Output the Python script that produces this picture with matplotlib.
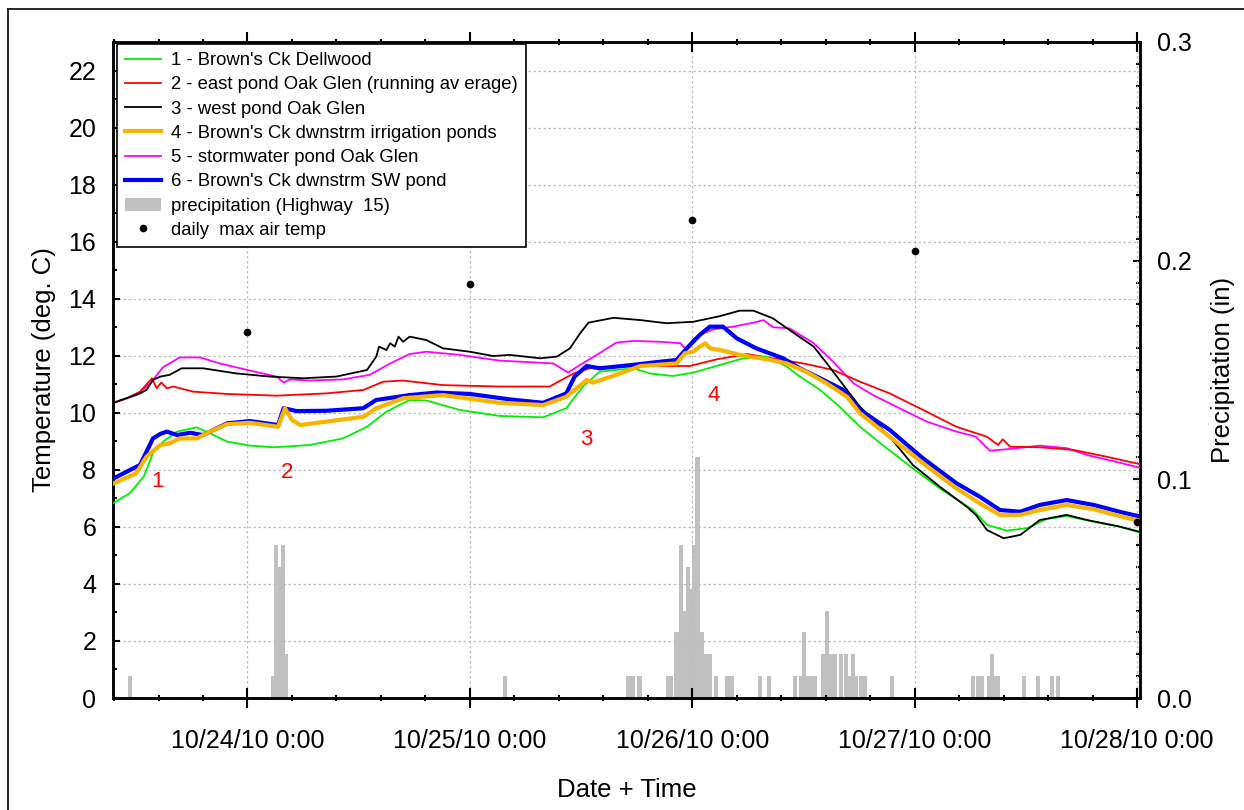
import matplotlib
matplotlib.use("Agg")
import matplotlib.pyplot as plt
import matplotlib.dates as mdates
from matplotlib.ticker import MultipleLocator, FuncFormatter
from matplotlib.lines import Line2D
from matplotlib.patches import Patch
from datetime import datetime

plt.rcParams['font.family'] = ['Liberation Sans', 'DejaVu Sans']

# ---- data (hours from 10/24/10 0:00) ----
green_h = [-14.8, -12.7, -11.2, -10.2, -9.1, -7.6, -5.5, -4.05, -2.2, 0.27, 2.8, 6.7, 10.3, 12.9, 15.0, 17.5,
           19.3, 22.9, 27.2, 31.9, 34.4, 36.2, 38.0, 41.6, 43.4, 45.9, 48.1, 50.6, 53.5, 56.0, 58.2, 59.6,
           61.8, 63.9, 66.1, 68.3, 71.8, 74.7, 78.3, 79.8, 81.9, 84.1, 86.2, 88.4, 91.3, 94.1, 96.6]
green_t = [6.77, 7.18, 7.76, 8.58, 8.99, 9.34, 9.49, 9.28, 8.99, 8.85, 8.79, 8.87, 9.10, 9.51, 10.04, 10.45,
           10.43, 10.10, 9.89, 9.84, 10.16, 10.92, 11.44, 11.56, 11.38, 11.29, 11.41, 11.64, 11.91, 11.97, 11.62, 11.27,
           10.80, 10.21, 9.51, 8.93, 8.05, 7.35, 6.59, 6.07, 5.87, 5.95, 6.27, 6.38, 6.18, 6.01, 5.77]

red_h = [-14.8, -13.0, -11.6, -10.3, -9.8, -9.3, -8.7, -8.0, -5.85, -2.2, 3.15, 8.5, 12.5, 14.65, 16.8, 21.1,
         27.2, 32.6, 35.2, 37.3, 43.4, 47.7, 50.6, 53.9, 56.7, 60.3, 63.2, 66.1, 69.3, 72.9, 76.5, 79.8,
         81.0, 81.5, 82.3, 85.5, 89.1, 92.7, 96.7]
red_t = [10.31, 10.51, 10.74, 11.21, 10.86, 11.06, 10.86, 10.92, 10.74, 10.66, 10.60, 10.68, 10.80, 11.09, 11.13, 10.97,
         10.92, 10.92, 11.38, 11.60, 11.64, 11.64, 11.87, 12.06, 11.91, 11.71, 11.50, 11.09, 10.68, 10.10, 9.51, 9.16,
         8.87, 9.07, 8.81, 8.79, 8.70, 8.46, 8.17]

black_h = [-14.8, -11.6, -10.9, -10.2, -9.4, -8.4, -7.1, -4.8, -1.2, 2.4, 6.0, 9.6, 12.9, 13.9, 14.2, 15.0, 15.4,
           15.9, 16.3, 16.8, 17.5, 19.3, 21.1, 24.0, 26.5, 28.3, 31.6, 33.4, 34.8, 35.9, 36.8, 39.5, 42.4, 45.2,
           48.1, 51.0, 53.1, 54.6, 56.7, 58.5, 61.1, 62.5, 64.7, 66.1, 69.3, 71.8, 74.7, 77.6, 78.6, 79.8,
           81.6, 83.4, 85.5, 88.4, 90.6, 94.1, 96.6]
black_t = [10.31, 10.68, 10.80, 11.15, 11.27, 11.33, 11.56, 11.56, 11.38, 11.27, 11.21, 11.27, 11.50, 11.97, 12.32, 12.20, 12.44,
           12.32, 12.67, 12.49, 12.67, 12.55, 12.26, 12.14, 11.99, 12.03, 11.91, 11.97, 12.26, 12.79, 13.16, 13.33, 13.25, 13.14,
           13.19, 13.39, 13.58, 13.58, 13.31, 12.90, 12.32, 11.74, 10.80, 10.21, 9.16, 8.17, 7.41, 6.71, 6.42, 5.89,
           5.60, 5.72, 6.24, 6.42, 6.24, 6.01, 5.80]

orange_h = [-14.8, -12.0, -10.9, -9.4, -8.4, -7.3, -5.5, -4.05, -2.2, 0.27, 3.3, 4.05, 4.8, 5.7, 8.5, 12.5, 13.9,
            16.8, 21.1, 27.2, 31.9, 34.4, 36.6, 37.3, 39.8, 42.4, 46.3, 47.2, 48.1, 48.8, 49.4, 49.9, 51.0, 53.1,
            56.0, 58.2, 60.3, 62.5, 64.7, 66.1, 69.3, 72.9, 76.5, 79.0, 81.2, 83.4, 85.5, 88.4, 91.3, 94.1, 96.6]
orange_t = [7.47, 7.88, 8.46, 8.87, 8.93, 9.10, 9.10, 9.34, 9.60, 9.65, 9.51, 10.16, 9.75, 9.57, 9.69, 9.86, 10.16,
            10.51, 10.62, 10.35, 10.27, 10.56, 11.15, 11.06, 11.33, 11.64, 11.73, 12.09, 12.14, 12.32, 12.44, 12.26, 12.20, 12.03,
            11.88, 11.73, 11.44, 11.03, 10.56, 9.98, 9.16, 8.23, 7.35, 6.83, 6.42, 6.42, 6.59, 6.77, 6.62, 6.38, 6.18]

magenta_h = [-14.8, -12.0, -10.5, -9.1, -7.3, -5.1, -3.0, 0.27, 3.15, 3.9, 4.6, 6.7, 10.3, 13.2, 15.4, 17.5, 19.3,
             22.9, 27.2, 33.0, 34.6, 35.9, 38.0, 39.8, 41.6, 44.5, 46.7, 47.4, 48.1, 49.2, 50.3, 52.4, 54.6, 55.7,
             56.7, 58.5, 61.1, 63.2, 65.4, 67.5, 71.1, 73.3, 76.5, 78.6, 80.1, 81.9, 85.5, 88.4, 90.6, 94.1, 96.6]
magenta_t = [10.31, 10.62, 11.03, 11.60, 11.94, 11.94, 11.73, 11.48, 11.27, 11.06, 11.17, 11.13, 11.17, 11.33, 11.73, 12.06, 12.14,
             12.03, 11.83, 11.73, 11.41, 11.68, 12.09, 12.46, 12.52, 12.49, 12.44, 12.20, 12.58, 12.79, 12.93, 13.02, 13.16, 13.25,
             13.00, 12.96, 12.44, 11.79, 11.03, 10.62, 10.04, 9.69, 9.34, 9.16, 8.67, 8.72, 8.85, 8.76, 8.52, 8.25, 8.05]

blue_h = [-14.8, -12.7, -11.6, -10.2, -9.4, -8.7, -7.6, -6.2, -4.8, -2.2, 0.27, 3.3, 3.9, 5.3, 8.5, 12.5, 13.9,
          17.5, 20.4, 24.0, 28.3, 31.9, 34.4, 35.3, 36.6, 38.0, 41.6, 44.5, 46.3, 47.4, 48.8, 49.9, 51.3, 52.8,
          54.9, 57.8, 59.6, 61.8, 64.3, 66.1, 69.3, 72.9, 76.5, 79.0, 81.2, 83.4, 85.5, 88.4, 91.3, 94.1, 96.6]
blue_t = [7.64, 7.99, 8.17, 9.10, 9.26, 9.34, 9.22, 9.30, 9.22, 9.63, 9.71, 9.57, 10.16, 10.06, 10.07, 10.16, 10.45,
          10.62, 10.71, 10.66, 10.47, 10.35, 10.68, 11.27, 11.64, 11.56, 11.68, 11.79, 11.85, 12.26, 12.73, 13.02, 13.02, 12.61,
          12.26, 11.91, 11.56, 11.21, 10.80, 10.10, 9.40, 8.40, 7.53, 7.06, 6.59, 6.53, 6.77, 6.94, 6.77, 6.53, 6.34]

precip_h = [-12.7, 2.75, 3.05, 3.45, 3.85, 4.15, 27.8,
            41.06, 41.55, 42.3, 45.36, 45.73, 46.3, 46.8, 47.2, 47.5, 47.9, 48.2, 48.56, 49.0, 49.4, 49.85,
            50.55, 51.8, 52.3, 55.3, 56.3, 59.05, 59.7, 60.07, 60.35, 60.8, 61.25, 62.1, 62.57, 62.97, 63.4,
            64.06, 64.6, 64.9, 65.3, 65.7, 66.2, 66.6, 69.55,
            78.3, 78.8, 79.25, 80.0, 80.3, 80.66, 81.0, 83.8, 85.3, 86.8, 87.5]
precip_in = [0.01, 0.01, 0.07, 0.06, 0.07, 0.02, 0.01,
             0.01, 0.01, 0.01, 0.01, 0.01, 0.03, 0.07, 0.04, 0.06, 0.05, 0.07, 0.11, 0.03, 0.02, 0.02,
             0.01, 0.01, 0.01, 0.01, 0.01, 0.01, 0.01, 0.03, 0.01, 0.01, 0.01, 0.02, 0.04, 0.02, 0.02,
             0.02, 0.02, 0.01, 0.02, 0.01, 0.01, 0.01, 0.01,
             0.01, 0.01, 0.01, 0.01, 0.02, 0.01, 0.01, 0.01, 0.01, 0.01, 0.01]

airmax_h = [0, 24, 48, 72, 96]
airmax_t = [12.83, 14.52, 16.76, 15.67, 6.16]

annot_labels = ["1", "2", "3", "4"]
annot_h = [-9.75, 4.3, 36.6, 50.3]
annot_t = [7.6, 7.89, 9.05, 10.6]

series_labels = ["1 - Brown's Ck Dellwood",
                 "2 - east pond Oak Glen (running av erage)",
                 "3 - west pond Oak Glen",
                 "4 - Brown's Ck dwnstrm irrigation ponds",
                 "5 - stormwater pond Oak Glen",
                 "6 - Brown's Ck dwnstrm SW pond"]
precip_label = "precipitation (Highway  15)"
air_label = "daily  max air temp"

# ---- helpers ----
base = mdates.date2num(datetime(2010, 10, 24))
def hx(hours):
    return [base + h / 24.0 for h in hours]

fig = plt.figure(figsize=(12.44, 8.10), dpi=100)
W, H = 1244.0, 810.0
ax = fig.add_axes([113 / W, 1 - 698 / H, (1140 - 113) / W, (698 - 42) / H])
ax2 = ax.twinx()
ax.set_zorder(ax2.get_zorder() + 1)
ax.patch.set_visible(False)

# precipitation bars on right axis (behind)
ax2.bar(hx(precip_h), precip_in, width=0.45 / 24.0, color='#c0c0c0', edgecolor='none',
        align='center', zorder=1)
ax2.set_ylim(0, 0.3)

cols = ['#00ee00', '#ff0000', '#000000', '#f8b300', '#ff00ff', '#0000ff']
lws = [1.3, 1.3, 1.3, 3.0, 1.3, 3.0]
series = [(green_h, green_t), (red_h, red_t), (black_h, black_t), (orange_h, orange_t),
          (magenta_h, magenta_t), (blue_h, blue_t)]
zord = [5, 4, 6, 8, 3, 7]
handles = []
for (hh, tt), c, lw, lab, z in zip(series, cols, lws, series_labels, zord):
    ln, = ax.plot(hx(hh), tt, color=c, lw=lw, label=lab, zorder=z, solid_joinstyle='round')
    handles.append(ln)

ax.plot(hx(airmax_h), airmax_t, 'o', color='black', ms=4.5, zorder=9, clip_on=False)

for lab, h, t in zip(annot_labels, annot_h, annot_t):
    ax.text(base + h / 24.0, t, lab, color='#ff0000', fontsize=16, ha='center', va='center', zorder=10)

ax.set_xlim(base - 14.51 / 24.0, base + 96.31 / 24.0)
ax.set_ylim(0, 23)

# ticks / formatting
ax.xaxis.set_major_locator(MultipleLocator(1.0))
ax.xaxis.set_minor_locator(MultipleLocator(0.2))
def fmt_date(x, pos=None):
    d = mdates.num2date(x)
    return f"{d.month}/{d.day}/{d.strftime('%y')} {d.hour}:{d.minute:02d}"
ax.xaxis.set_major_formatter(FuncFormatter(fmt_date))
ax.yaxis.set_major_locator(MultipleLocator(2))
ax.yaxis.set_minor_locator(MultipleLocator(1))
ax2.yaxis.set_major_locator(MultipleLocator(0.1))
ax2.yaxis.set_minor_locator(MultipleLocator(0.01))
ax2.yaxis.set_major_formatter(FuncFormatter(lambda v, p: f"{v:.1f}"))

TS = 18
ax.tick_params(axis='x', which='major', direction='inout', length=15, width=1.5,
               labelsize=TS, pad=15, top=True)
ax.tick_params(axis='x', which='minor', direction='inout', length=4, width=1.5, top=True)
ax.tick_params(axis='y', which='major', direction='in', length=5, width=1.5, labelsize=TS, pad=12)
ax.tick_params(axis='y', which='minor', direction='in', length=3, width=1.5)
ax2.tick_params(axis='y', which='major', direction='in', length=5, width=1.5, labelsize=TS, pad=12)
ax2.tick_params(axis='y', which='minor', direction='in', length=3, width=1.5)

ax.grid(True, which='major', color='#bdbdbd', linestyle=(0, (2, 2)), linewidth=0.9)
ax.set_axisbelow(True)

for a in (ax, ax2):
    for s in a.spines.values():
        s.set_linewidth(1.8)
        s.set_color('black')

ax.set_ylabel("Temperature (deg. C)", fontsize=18.5, labelpad=9)
ax2.set_ylabel("Precipitation (in)", fontsize=18.5, labelpad=14)
ax.set_xlabel("Date + Time", fontsize=18.5, labelpad=18)

# legend
leg_handles = handles + [Patch(facecolor='#c0c0c0', edgecolor='none'),
                         Line2D([], [], marker='o', color='black', linestyle='none', ms=4.5)]
leg_labels = series_labels + [precip_label, air_label]
leg = ax.legend(leg_handles, leg_labels, loc='upper left', bbox_to_anchor=(0.004, 0.997),
                borderaxespad=0, fontsize=13.3, frameon=True, fancybox=False, shadow=False,
                framealpha=1, edgecolor='black', handlelength=1.95, handletextpad=0.5,
                labelspacing=0.39, borderpad=0.45)
leg.get_frame().set_linewidth(1.2)
leg.set_zorder(20)

# figure border (top and left)
fig.add_artist(Line2D([8 / W, 8 / W], [0, 1 - 9 / H], color='black', lw=1.2, transform=fig.transFigure))
fig.add_artist(Line2D([8 / W, 1], [1 - 9 / H, 1 - 9 / H], color='black', lw=1.2, transform=fig.transFigure))

fig.savefig("out.png", dpi=100)
